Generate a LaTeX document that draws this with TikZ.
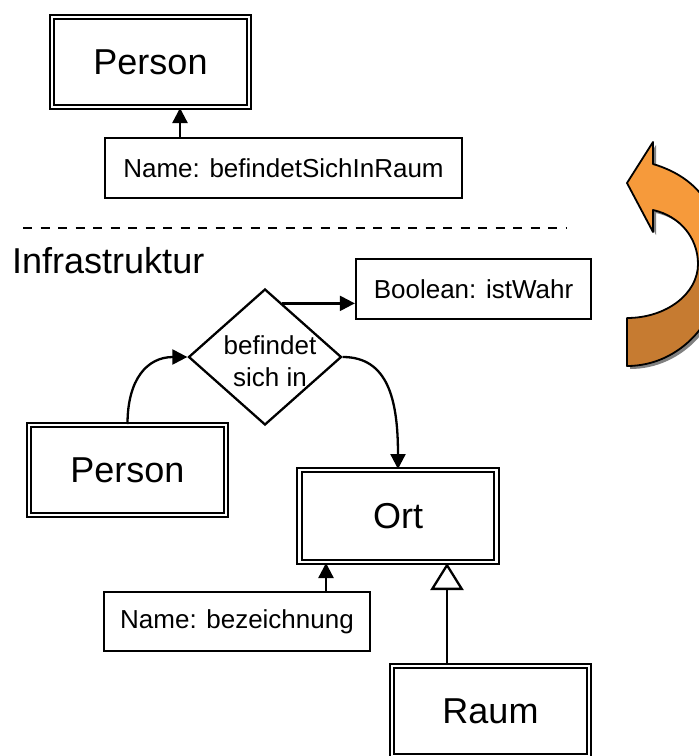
\documentclass[tikz,border=0pt]{standalone}
\usepackage{fontspec}
\setmainfont{Liberation Sans}
\usetikzlibrary{shapes.geometric,arrows.meta}
\definecolor{orangehell}{HTML}{F69A3B}
\definecolor{orangedunkel}{HTML}{C67B31}
\definecolor{schatten}{HTML}{808080}
\tikzset{
  klasse/.style={draw,double,line width=2pt,double distance=2.2pt,
    minimum width=197pt,minimum height=90pt,inner sep=0pt,
    font=\fontsize{36}{40}\selectfont},
  attribut/.style={draw,line width=2.3pt,inner sep=0pt,
    font=\fontsize{26}{30}\selectfont},
  pfeil/.style={line width=2.3pt,-{Triangle[length=15pt,width=15pt]}},
  erbt/.style={line width=2.3pt,-{Triangle[open,length=27pt,width=33pt,fill=white]}},
}
\newcommand{\bogenform}{(627,366) .. controls (680,366) and (722,320) .. (722,264)
  .. controls (722,212) and (700,178) .. (653,164)
  -- (653,142) -- (627,183) -- (653,232) -- (653,210)
  .. controls (680,216) and (698,238) .. (698,264)
  .. controls (698,294) and (666,318) .. (627,318) -- cycle}
\begin{document}
\begin{tikzpicture}[x=1pt,y=-1pt]
  \useasboundingbox (0,0) rectangle (699,756);
  % Oben
  \node[klasse] (person1) at (150.5,62) {Person};
  \node[attribut,minimum width=357pt,minimum height=60pt] (attrraum) at (283.5,168) {Name: befindetSichInRaum};
  \draw[pfeil] (attrraum.north -| 180,0) -- (person1.south -| 180,0);
  % Trennlinie
  \draw[line width=2pt,dash pattern=on 9pt off 8.5pt] (23,228) -- (567,228);
  % Infrastruktur
  \node[anchor=base west,inner sep=0pt,font=\fontsize{36}{40}\selectfont] (infra) at (12,273) {Infrastruktur};
  \node[attribut,minimum width=235pt,minimum height=60pt] (bool) at (473.5,289) {Boolean: istWahr};
  \node[diamond,draw,line width=2.3pt,inner sep=0pt,minimum width=153pt,minimum height=136pt] (rel) at (265,357) {};
  \node[align=center,inner sep=0pt,font=\fontsize{26}{32}\selectfont] (reltext) at (270,361) {befindet\\sich in};
  \node[klasse] (person2) at (127.5,470) {Person};
  \node[klasse,minimum height=92pt] (ort) at (398,516) {Ort};
  \node[attribut,minimum width=266pt,minimum height=59pt] (attrbez) at (237,621.5) {Name: bezeichnung};
  \node[klasse] (raum) at (490.5,711) {Raum};
  % Pfeile
  \draw[pfeil] (rel.72) -- (rel.72 -| bool.west);
  \draw[pfeil] (person2.north) .. controls +(0,-45) and +(-40,0) .. (rel.west);
  \draw[pfeil] (rel.east) .. controls +(45,0) and +(0,-70) .. (ort.north);
  \draw[pfeil] (attrbez.north -| 326,0) -- (ort.south -| 326,0);
  \draw[erbt] (raum.north -| 447,0) -- (ort.south -| 447,0);
  % Bogenpfeil
  \fill[schatten,shift={(3,3)}] \bogenform;
  \fill[orangehell] \bogenform;
  \fill[orangedunkel] (627,366) .. controls (680,366) and (722,320) .. (722,264)
    -- (698,264) .. controls (698,294) and (666,318) .. (627,318) -- cycle;
  \draw[line width=1.8pt,line join=round] \bogenform;
\end{tikzpicture}
\end{document}
